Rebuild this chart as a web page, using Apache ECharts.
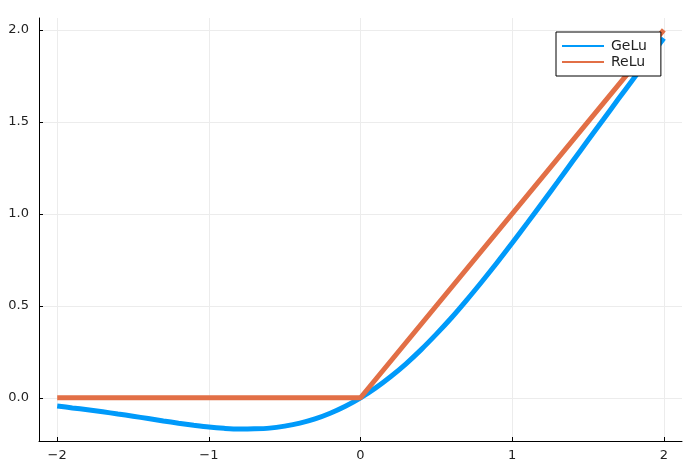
<!DOCTYPE html>
<html>
<head>
<meta charset="utf-8">
<script src="https://cdn.jsdelivr.net/npm/echarts@6/dist/echarts.min.js"></script>
<style>
html, body { margin: 0; padding: 0; background: #fff; }
#chart { width: 695px; height: 473px; }
</style>
</head>
<body>
<div id="chart"></div>
<script>
//GeLu曲线上读取的点
var geluX = [-2.0, -1.9, -1.8, -1.7, -1.6, -1.5, -1.4, -1.3, -1.2, -1.1, -1.0, -0.9, -0.8, -0.7, -0.6, -0.5, -0.4, -0.3, -0.2, -0.1,
	0.0, 0.1, 0.2, 0.3, 0.4, 0.5, 0.6, 0.7, 0.8, 0.9, 1.0, 1.1, 1.2, 1.3, 1.4, 1.5, 1.6, 1.7, 1.8, 1.9, 2.0];
var geluY = [-0.045, -0.055, -0.065, -0.076, -0.088, -0.100, -0.113, -0.126, -0.138, -0.149, -0.159, -0.166, -0.170, -0.169, -0.165, -0.154, -0.138, -0.115, -0.084, -0.046,
	0.000, 0.054, 0.116, 0.185, 0.262, 0.346, 0.435, 0.531, 0.631, 0.734, 0.841, 0.951, 1.062, 1.174, 1.287, 1.400, 1.512, 1.624, 1.735, 1.845, 1.955];
//ReLu折线
var reluX = [-2, 0, 2];
var reluY = [0, 0, 2];
//刻度
var xTicks = [-2, -1, 0, 1, 2];
var yTicks = [0, 0.5, 1, 1.5, 2];

var zip = function(xs, ys) {
	var out = [];
	for(var i = 0; i < xs.length; i++) {
		out.push([xs[i], ys[i]]);
	}
	return out;
};

var chart = echarts.init(document.getElementById('chart'));
var axisFont = {
	fontFamily: 'DejaVu Sans',
	fontSize: 13,
	color: '#222'
};
var option = {
	animation: false,
	backgroundColor: '#fff',
	color: ['#009AFA', '#E26F46'],
	grid: {
		left: 39,
		right: 13,
		top: 18,
		bottom: 32
	},
	legend: {
		orient: 'vertical',
		left: 556,
		top: 32,
		padding: [7, 14, 7, 6],
		itemGap: 2,
		itemWidth: 42,
		itemHeight: 2,
		icon: 'rect',
		backgroundColor: '#fff',
		borderColor: '#000',
		borderWidth: 1,
		borderRadius: 0,
		textStyle: {
			fontFamily: 'DejaVu Sans',
			fontSize: 14,
			color: '#222',
			padding: [0, 0, 0, 2]
		},
		data: ['GeLu', 'ReLu']
	},
	xAxis: {
		type: 'value',
		min: -2.12,
		max: 2.12,
		axisLine: {
			onZero: false,
			lineStyle: { color: '#000', width: 1 }
		},
		axisTick: {
			inside: true,
			length: 4,
			customValues: xTicks,
			lineStyle: { color: '#000' }
		},
		axisLabel: {
			customValues: xTicks,
			margin: 8,
			formatter: function(v) {
				return String(v).replace('-', '\u2212');
			},
			fontFamily: axisFont.fontFamily,
			fontSize: axisFont.fontSize,
			color: axisFont.color
		},
		splitLine: {
			show: true,
			lineStyle: { color: '#ececec', width: 1 }
		}
	},
	yAxis: {
		type: 'value',
		min: -0.235,
		max: 2.065,
		axisLine: {
			show: true,
			onZero: false,
			lineStyle: { color: '#000', width: 1 }
		},
		axisTick: {
			show: true,
			inside: true,
			length: 4,
			customValues: yTicks,
			lineStyle: { color: '#000' }
		},
		axisLabel: {
			customValues: yTicks,
			margin: 10,
			formatter: function(v) {
				return v.toFixed(1);
			},
			fontFamily: axisFont.fontFamily,
			fontSize: axisFont.fontSize,
			color: axisFont.color
		},
		splitLine: {
			show: true,
			lineStyle: { color: '#ececec', width: 1 }
		}
	},
	series: [{
		name: 'GeLu',
		type: 'line',
		data: zip(geluX, geluY),
		smooth: 0.3,
		showSymbol: false,
		lineStyle: { width: 5 }
	}, {
		name: 'ReLu',
		type: 'line',
		data: zip(reluX, reluY),
		showSymbol: false,
		lineStyle: { width: 5 }
	}]
};
chart.setOption(option);
</script>
</body>
</html>
